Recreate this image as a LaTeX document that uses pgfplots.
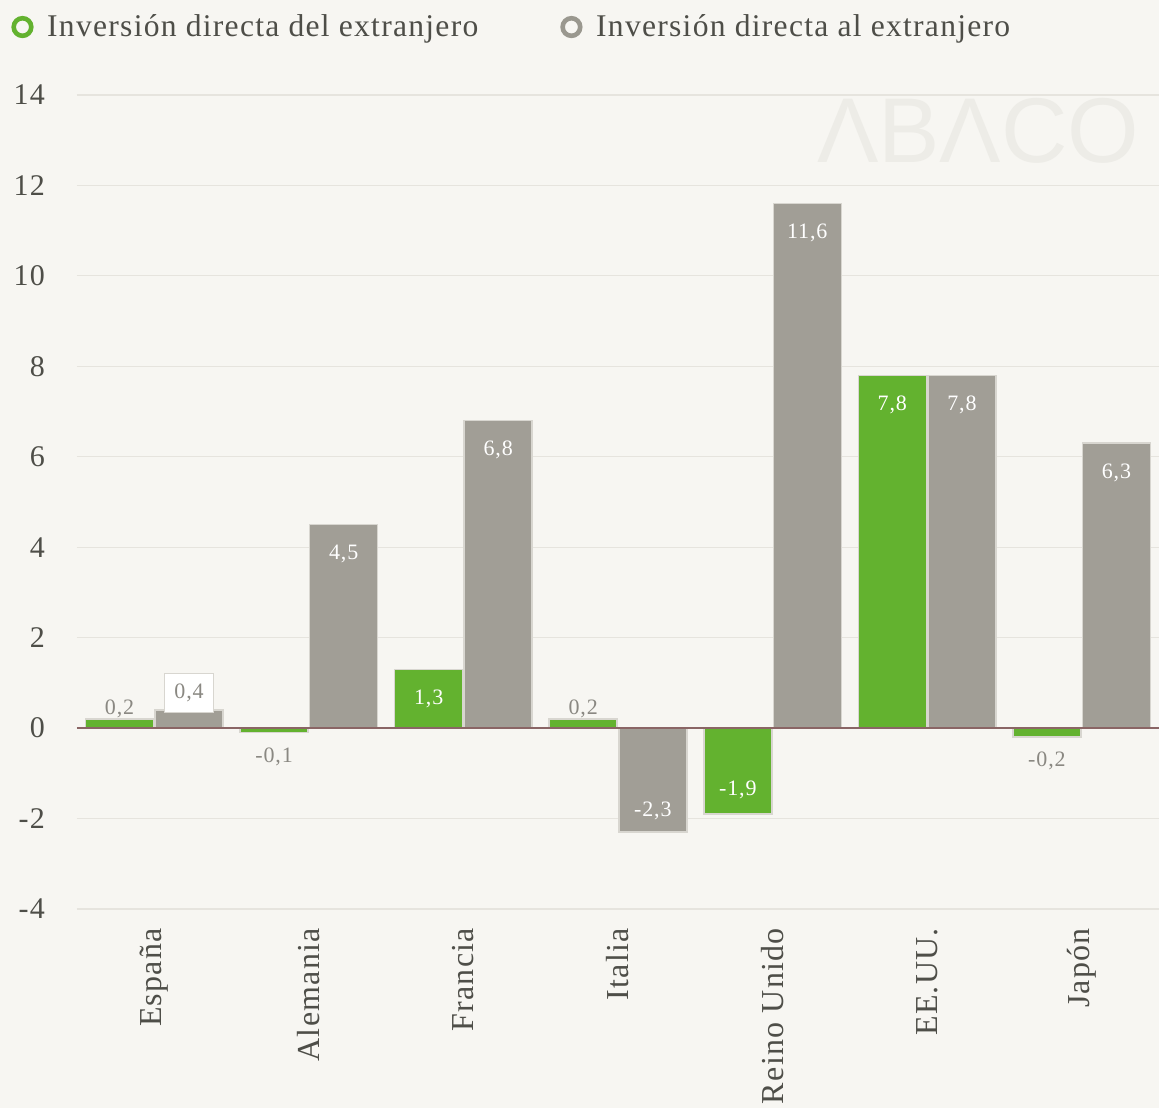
\documentclass[border=0pt]{standalone}
\usepackage{pgfplots}
\pgfplotsset{compat=1.18}
\usepackage{fontspec}
\setmainfont{Liberation Serif}[LetterSpace=4]
\newfontfamily\wmfont{Liberation Sans}
\definecolor{bgc}{HTML}{F7F6F2}
\definecolor{cgreen}{HTML}{63B22F}
\definecolor{cgray}{HTML}{A19E96}
\definecolor{cgrayleg}{HTML}{9A988F}
\definecolor{ctext}{HTML}{4E4E48}
\definecolor{csmall}{HTML}{8A8882}
\definecolor{cgrid}{HTML}{E6E4DE}
\definecolor{cborder}{HTML}{D8D6D0}
\definecolor{czero}{HTML}{8A6565}
\definecolor{cwm}{HTML}{EDECE7}
\begin{document}
\begin{tikzpicture}
\path[use as bounding box, fill=bgc] (-38.5pt,-99.5pt) rectangle (541pt,454.5pt);
\begin{axis}[
  at={(0,0)}, anchor=south west,
  scale only axis, width=541pt, height=407pt,
  xmin=-0.5, xmax=6.5, ymin=-4, ymax=14,
  axis line style={draw=none},
  major tick length=0pt,
  ytick={-4,-2,0,2,4,6,8,10,12,14},
  yticklabels={-4,-2,0,2,4,6,8,10,12,14},
  xtick={0,1,2,3,4,5,6},
  xticklabels={España,Alemania,Francia,Italia,Reino Unido,EE.UU.,Japón},
  ymajorgrids, grid style={cgrid, line width=0.6pt},
  yticklabel style={font=\fontsize{15pt}{18pt}\selectfont, text=ctext},
  xticklabel style={rotate=90, anchor=east, font=\fontsize{16pt}{18pt}\selectfont, text=ctext},
  xticklabel shift=6pt,
  yticklabel shift=12.5pt,
  legend columns=2,
  legend style={draw=none, fill=none, at={(-0.061,1.0835)}, anchor=west,
    font=\fontsize{15.8pt}{18pt}\selectfont, text=ctext, inner sep=0pt,
    /tikz/every even column/.append style={column sep=39pt}},
  legend cell align=left,
  clip=false,
]
\node[font=\wmfont\fontsize{46pt}{50pt}\selectfont, text=cwm] at (axis cs:5.33,13.2) {ΛBΛCO};

\addplot[ybar, bar width=0.44, bar shift=-0.225, fill=cgreen, draw=cborder, line width=0.75pt,
  legend image code/.code={\draw[draw=cgreen, line width=2.3pt, fill=none] (6pt,0pt) circle (4.4pt); \path (16pt,0pt);}]
  table[x=x, y=y] {
x y
0 0.2
1 -0.1
2 1.3
3 0.2
4 -1.9
5 7.8
6 -0.2
};
\addlegendentry{Inversión directa del extranjero}
\addplot[ybar, bar width=0.44, bar shift=0.225, fill=cgray, draw=cborder, line width=0.75pt,
  legend image code/.code={\draw[draw=cgrayleg, line width=2.3pt, fill=none] (6pt,0pt) circle (4.4pt); \path (16pt,0pt);}]
  table[x=x, y=y] {
x y
0 0.4
1 4.5
2 6.8
3 -2.3
4 11.6
5 7.8
6 6.3
};
\addlegendentry{Inversión directa al extranjero}

\draw[czero, line width=1pt] (axis cs:-0.5,0) -- (axis cs:6.5,0);

% labels inside positive bars (white)
\addplot[forget plot, ybar, bar width=0.44, bar shift=0pt, draw=none, fill=none,
  nodes near coords, point meta=explicit symbolic,
  every node near coord/.append style={anchor=center, yshift=-14.75pt, text=white, font=\fontsize{11pt}{13pt}\selectfont}]
  table[x=x, y=y, meta=l] {
x y l
1.775 1.3 {1,3}
4.775 7.8 {7,8}
1.225 4.5 {4,5}
2.225 6.8 {6,8}
4.225 11.6 {11,6}
5.225 7.8 {7,8}
6.225 6.3 {6,3}
};
% labels inside negative bars (white)
\addplot[forget plot, ybar, bar width=0.44, bar shift=0pt, draw=none, fill=none,
  nodes near coords, point meta=explicit symbolic,
  every node near coord/.append style={anchor=center, yshift=12pt, text=white, font=\fontsize{11pt}{13pt}\selectfont}]
  table[x=x, y=y, meta=l] {
x y l
3.775 -1.9 {-1,9}
};
\addplot[forget plot, ybar, bar width=0.44, bar shift=0pt, draw=none, fill=none,
  nodes near coords, point meta=explicit symbolic,
  every node near coord/.append style={anchor=center, yshift=10.5pt, text=white, font=\fontsize{11pt}{13pt}\selectfont}]
  table[x=x, y=y, meta=l] {
x y l
3.225 -2.3 {-2,3}
};
% small labels above
\addplot[forget plot, ybar, bar width=0.44, bar shift=0pt, draw=none, fill=none,
  nodes near coords, point meta=explicit symbolic,
  every node near coord/.append style={anchor=south, yshift=-3pt, text=csmall, font=\fontsize{11pt}{13pt}\selectfont}]
  table[x=x, y=y, meta=l] {
x y l
-0.225 0.2 {0,2}
2.775 0.2 {0,2}
};
% small labels below
\addplot[forget plot, ybar, bar width=0.44, bar shift=0pt, draw=none, fill=none,
  nodes near coords, point meta=explicit symbolic,
  every node near coord/.append style={anchor=north, yshift=-4pt, text=csmall, font=\fontsize{11pt}{13pt}\selectfont}]
  table[x=x, y=y, meta=l] {
x y l
0.775 -0.1 {-0,1}
5.775 -0.2 {-0,2}
};
% boxed label
\addplot[forget plot, ybar, bar width=0.44, bar shift=0pt, draw=none, fill=none,
  nodes near coords, point meta=explicit symbolic,
  every node near coord/.append style={anchor=south, yshift=-1.5pt, text=csmall, fill=white, draw=cborder, line width=0.6pt,
    minimum width=24.5pt, minimum height=19.5pt, inner sep=0pt, font=\fontsize{11pt}{13pt}\selectfont}]
  table[x=x, y=y, meta=l] {
x y l
0.225 0.4 {0,4}
};
\end{axis}
\end{tikzpicture}
\end{document}
